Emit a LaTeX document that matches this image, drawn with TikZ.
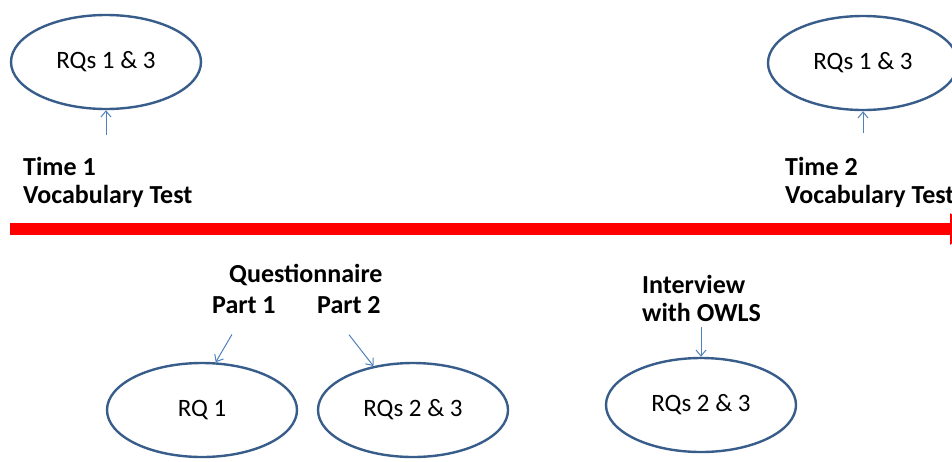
\documentclass[tikz,border=0pt]{standalone}
\usepackage{fontspec}
\setmainfont{Carlito}
\usetikzlibrary{shapes.geometric,arrows.meta,calc}
\definecolor{ellblue}{RGB}{56,93,138}
\definecolor{arrblue}{RGB}{79,129,189}
\begin{document}
\begin{tikzpicture}[x=1pt,y=-1pt,
  rq/.style={ellipse,draw=ellblue,line width=2.4pt,minimum width=190pt,minimum height=94pt,inner sep=0pt,font=\fontsize{25}{29}\selectfont},
  lbl/.style={font=\bfseries\fontsize{26}{28}\selectfont,align=left,inner sep=0pt,anchor=north west},
  conn/.style={draw=arrblue,line width=1pt,-{Straight Barb[length=6pt,width=10pt]}},
  timeline/.style={draw=red,line width=12pt,-{Triangle[length=24pt,width=30pt]}}]
\useasboundingbox (0,0) rectangle (952,461);
\clip (0,0) rectangle (952,461);
% ellipses
\node[rq] (e1) at (106,62) {RQs 1 \& 3};
\node[rq] (e2) at (863,63) {RQs 1 \& 3};
\node[rq] (e3) at (202,410) {RQ 1};
\node[rq] (e4) at (413,410) {RQs 2 \& 3};
\node[rq] (e5) at (701,405) {RQs 2 \& 3};
% labels
\node[lbl] (t1) at (23,157) {Time 1\\Vocabulary Test};
\node[lbl] (t2) at (785,157) {Time 2\\Vocabulary Test};
\node[lbl] (q) at (229,264) {Questionnaire};
\node[lbl] (p1) at (212,296) {Part 1};
\node[lbl] (p2) at (317,296) {Part 2};
\node[lbl] (iv) at (642,275) {Interview\\with OWLS};
% timeline
\coordinate (rs) at (10,229);
\coordinate (re) at (974,229);
\draw[timeline] (rs) -- (re);
% connectors
\draw[conn] ($(t1.north -| e1.south)+(0,-22)$) -- (e1.south);
\draw[conn] ($(t2.north -| e2.south)+(0,-24)$) -- (e2.south);
\draw[conn] ($(p1.south)+(-12,21)$) -- (e3.74);
\draw[conn] ($(p2.south)+(0,21)$) -- (e4.132);
\draw[conn] ($(iv.south -| e5.north)+(0,5)$) -- (e5.north);
\end{tikzpicture}
\end{document}
